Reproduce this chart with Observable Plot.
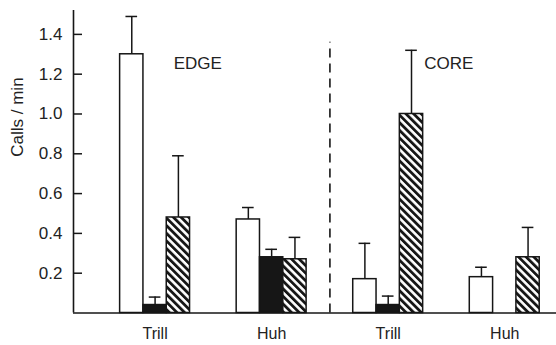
<!DOCTYPE html>
<html>
<head>
<meta charset="utf-8">
<script src="https://cdn.jsdelivr.net/npm/d3@7"></script>
<script src="https://cdn.jsdelivr.net/npm/@observablehq/plot@0.6"></script>
<style>
  html, body { margin: 0; padding: 0; background: #fff; }
  #chart { width: 556px; height: 345px; overflow: hidden; }
</style>
</head>
<body>
<div id="chart"></div>
<script>
// ---- data ----
const groups = ["Trill", "Huh", "Trill", "Huh"];
const regions = ["EDGE", "CORE"];
const series = ["open", "solid", "hatched"];
const openMean  = [1.30, 0.47, 0.17, 0.18];
const openErr   = [1.49, 0.53, 0.35, 0.23];
const solidMean = [0.04, 0.28, 0.04, 0];
const solidErr  = [0.08, 0.32, 0.085, null];
const hatchMean = [0.48, 0.27, 1.00, 0.28];
const hatchErr  = [0.79, 0.38, 1.32, 0.43];
const yTicks = [0.2, 0.4, 0.6, 0.8, 1.0, 1.2, 1.4];

// ---- build table ----
const means = [openMean, solidMean, hatchMean];
const errs = [openErr, solidErr, hatchErr];
const SLOTS = 5; // 3 bars + 2 gap slots per group
const rows = [];
groups.forEach((g, gi) => {
  series.forEach((s, si) => {
    const v = means[si][gi];
    const e = errs[si][gi];
    rows.push({group: g, gi, series: s, slot: gi * SLOTS + si, value: v, err: e});
  });
});
const bars = rows.filter(d => d.value > 0);
const errRows = rows.filter(d => d.err != null);

const ink = "#161616";
const chart = Plot.plot({
  width: 556,
  height: 345,
  marginLeft: 73,
  marginRight: 0,
  marginTop: 10,
  marginBottom: 32.5,
  style: {fontFamily: "'Liberation Sans', Arial, Helvetica, sans-serif", fontSize: "17px", color: "#222", background: "white"},
  x: {type: "linear", domain: [-2, 18.72], axis: null},
  y: {domain: [0, 1.52], axis: null},
  color: {type: "ordinal", domain: series, range: ["white", ink, "url(#hatch)"]},
  marks: [
    // bars
    Plot.rectY(bars, {x1: "slot", x2: d => d.slot + 1, y1: 0, y2: "value", fill: "series", stroke: ink, strokeWidth: 1.5}),
    // error bars (upward only)
    Plot.ruleX(errRows, {x: d => d.slot + 0.5, y1: "value", y2: "err", stroke: ink, strokeWidth: 1.5}),
    Plot.ruleY(errRows, {y: "err", x1: d => d.slot + 0.25, x2: d => d.slot + 0.75, stroke: ink, strokeWidth: 1.5}),
    // separator between EDGE and CORE
    Plot.ruleX([SLOTS * 2 - 1], {y1: 0, y2: 1.36, stroke: ink, strokeWidth: 1.6, strokeDasharray: "9,6"}),
    // region labels
    Plot.text(regions, {x: (d, i) => i === 0 ? 2.3 : SLOTS * 2 + 3.05, y: 1.255, text: d => d, textAnchor: "start", fill: "#222"}),
    // axes
    Plot.ruleX([-2], {stroke: ink, strokeWidth: 1.6}),
    Plot.ruleY([0], {stroke: ink, strokeWidth: 1.6}),
    Plot.axisY(yTicks, {anchor: "left", tickSize: -9, tickPadding: 20, strokeWidth: 1.5, stroke: ink, tickFormat: d => d.toFixed(1), fill: "#222"}),
    Plot.axisX(groups.map((_, i) => i * SLOTS + 1.5), {anchor: "bottom", tickSize: 0, tickPadding: 15, fontSize: 16, tickFormat: (d, i) => groups[i], fill: "#222", label: null}),
    Plot.text(["Calls / min"], {frameAnchor: "left", dx: -56, dy: -5, rotate: -90, fill: "#222", fontSize: 17})
  ]
});

// hatch pattern definition
const svgNS = "http://www.w3.org/2000/svg";
const svg = chart.tagName.toLowerCase() === "svg" ? chart : chart.querySelector("svg");
const defs = document.createElementNS(svgNS, "defs");
defs.innerHTML = `<pattern id="hatch" patternUnits="userSpaceOnUse" width="5.4" height="5.4" patternTransform="rotate(-45)">
  <rect width="5.4" height="5.4" fill="white"></rect>
  <line x1="1.4" y1="-1" x2="1.4" y2="7" stroke="${ink}" stroke-width="2.8"></line>
</pattern>`;
svg.insertBefore(defs, svg.firstChild);
document.getElementById("chart").appendChild(chart);
</script>
</body>
</html>
